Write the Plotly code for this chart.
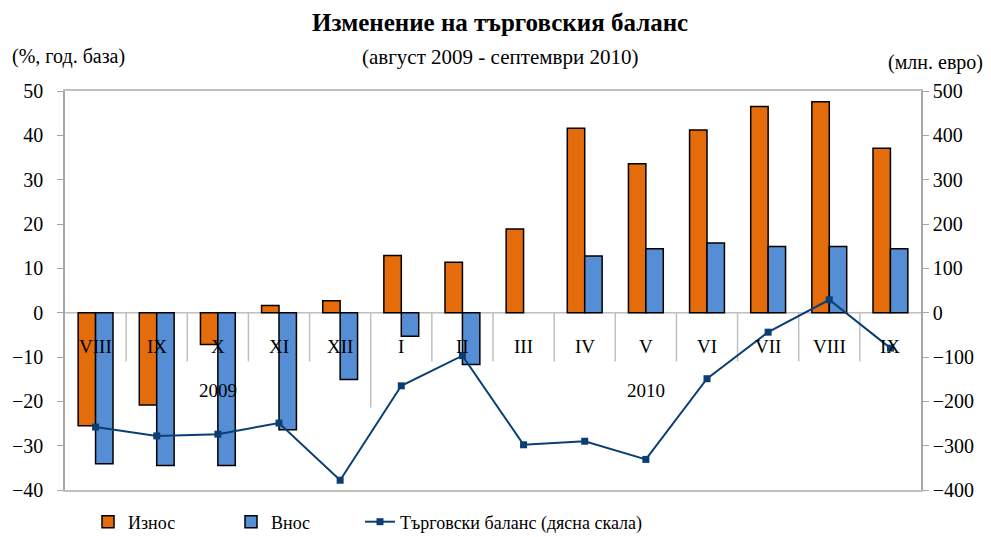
import plotly.graph_objects as go

months = ["VIII", "IX", "X", "XI", "XII", "I", "II", "III", "IV", "V", "VI", "VII", "VIII", "IX"]
years = ["2009", "2010"]
year_centers = [2, 9]
export_pct = [-25.5, -20.8, -7.2, 1.6, 2.7, 12.9, 11.4, 18.9, 41.6, 33.6, 41.2, 46.5, 47.6, 37.1]
import_pct = [-34.1, -34.5, -34.5, -26.4, -15.1, -5.3, -11.7, None, 12.8, 14.4, 15.7, 14.9, 14.9, 14.4]
balance = [-258, -278, -274, -249, -378, -165, -97, -298, -290, -331, -149, -44, 29, -80]

x = list(range(len(months)))
FONT = "Liberation Serif"
ORANGE = "#E46C0A"
BLUE = "#558ED5"
NAVY = "#0B3F73"
GRID = "#BFBFBF"

# page body has an 8px default margin, so the figure is offset by (8, 8)
OFF = 8
W, H = 991 - OFF, 537 - OFF
L, T = 65 - OFF, 91 - OFF
R = W - (921 - OFF)
B = H - (490 - OFF)
pw, ph = W - L - R, H - T - B


def px_x(px):
    return (px - OFF - L) / pw


def px_y(py):
    return (H - B - (py - OFF)) / ph


fig = go.Figure()
fig.add_trace(go.Bar(x=x, y=export_pct, name="Износ", legend="legend",
                     marker=dict(color=ORANGE, line=dict(color="black", width=1.5))))
fig.add_trace(go.Bar(x=x, y=import_pct, name="Внос", legend="legend2",
                     marker=dict(color=BLUE, line=dict(color="black", width=1.5))))
fig.add_trace(go.Scatter(x=x, y=balance, name="Търговски баланс (дясна скала)", yaxis="y2", legend="legend3",
                         mode="lines+markers", line=dict(color=NAVY, width=2),
                         marker=dict(symbol="square", size=7, color=NAVY)))

shapes = []
for i in range(len(months) - 1):
    long = (i == 4)
    shapes.append(dict(type="line", xref="x", yref="y", x0=i + 0.5, x1=i + 0.5, y0=0,
                       y1=-21.4 if long else -11, line=dict(color=GRID, width=1.5), layer="below"))
shapes.append(dict(type="line", xref="paper", yref="y", x0=0, x1=1, y0=0, y1=0,
                   line=dict(color=GRID, width=1.5), layer="below"))

annotations = []
for i, m in enumerate(months):
    annotations.append(dict(x=i, y=-7.7, xref="x", yref="y", text=m, showarrow=False,
                            font=dict(family=FONT, size=19, color="black")))
for c, yr in zip(year_centers, years):
    annotations.append(dict(x=c, y=-17.6, xref="x", yref="y", text=yr, showarrow=False,
                            font=dict(family=FONT, size=19, color="black")))

headers = [
    (500, 22, "center", "<b>Изменение на търговския баланс</b>", 25),
    (500, 57, "center", "(август 2009 - септември 2010)", 21),
    (10, 57, "left", "(%, год. база)", 20),
    (985, 62, "right", "(млн. евро)", 20),
]
for hx, hy, anc, txt, sz in headers:
    annotations.append(dict(x=px_x(hx), y=px_y(hy), xref="paper", yref="paper", xanchor=anc, yanchor="middle",
                            text=txt, showarrow=False, font=dict(family=FONT, size=sz, color="black")))

leg_common = dict(orientation="h", yanchor="middle", xanchor="left", bgcolor="rgba(0,0,0,0)",
                  font=dict(family=FONT, size=18, color="black"))

fig.update_layout(
    width=W, height=H,
    margin=dict(l=L, r=R, t=T, b=B, autoexpand=False),
    paper_bgcolor="white", plot_bgcolor="white",
    barmode="group", bargap=0.43, bargroupgap=0,
    font=dict(family=FONT, size=18, color="black"),
    showlegend=True,
    legend=dict(x=px_x(88), y=px_y(522), **leg_common),
    legend2=dict(x=px_x(231), y=px_y(522), **leg_common),
    legend3=dict(x=px_x(360), y=px_y(522), **leg_common),
    xaxis=dict(range=[-0.5, len(months) - 0.5], showticklabels=False, showgrid=False, zeroline=False,
               showline=True, mirror=True, linecolor=GRID, linewidth=1.5, ticks=""),
    yaxis=dict(range=[-40, 50], dtick=10, showgrid=False, zeroline=False, showline=True,
               linecolor="#A6A6A6", linewidth=1.5, ticks="outside", ticklen=6, tickcolor="#A6A6A6",
               ticklabelstandoff=10,
               tickfont=dict(family=FONT, size=20, color="black")),
    yaxis2=dict(range=[-400, 500], dtick=100, overlaying="y", side="right", showgrid=False, zeroline=False,
                showline=True, linecolor="#A6A6A6", linewidth=1.5, ticks="outside", ticklen=6,
                tickcolor="#A6A6A6", tickfont=dict(family=FONT, size=20, color="black")),
    shapes=shapes, annotations=annotations,
)
fig.write_html("out.html")
